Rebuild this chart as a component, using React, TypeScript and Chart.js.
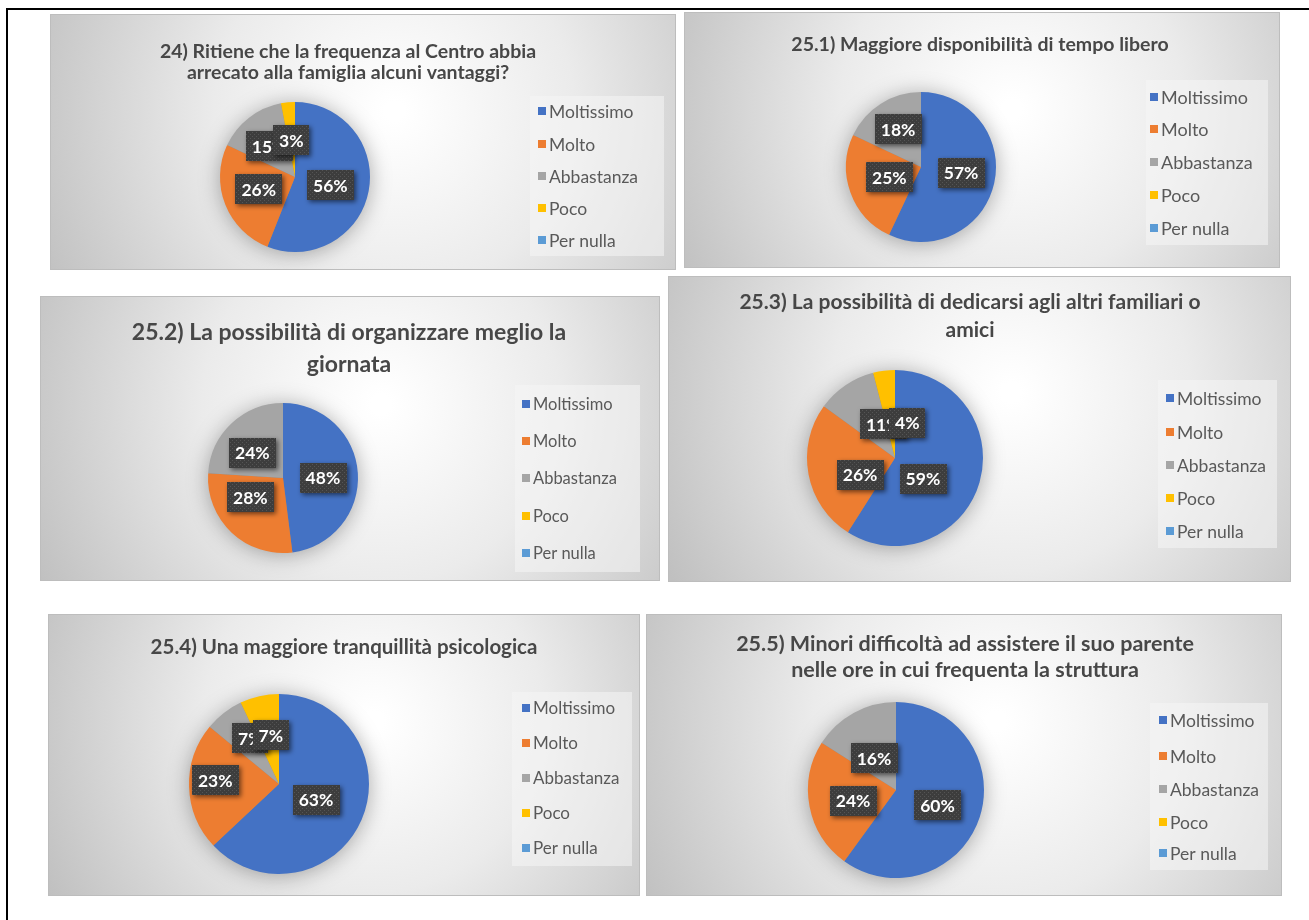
import React, { useEffect, useRef } from "react";
import { Chart, registerables } from "chart.js";

Chart.register(...registerables);

// ---------- data ----------
const categories = ["Moltissimo", "Molto", "Abbastanza", "Poco", "Per nulla"];
const sliceColors = ["#4472C4", "#ED7D31", "#A5A5A5", "#FFC000", "#5B9BD5"];

const title24 = ["24) Ritiene che la frequenza al Centro abbia", "arrecato alla famiglia alcuni vantaggi?"];
const title251 = ["25.1) Maggiore disponibilità di tempo libero"];
const title252 = ["25.2) La possibilità di organizzare meglio la", "giornata"];
const title253 = ["25.3) La possibilità di dedicarsi agli altri familiari o", "amici"];
const title254 = ["25.4) Una maggiore tranquillità psicologica"];
const title255 = ["25.5) Minori difficoltà ad assistere il suo parente", "nelle ore in cui frequenta la struttura"];

const values24 = [56, 26, 15, 3, 0];
const values251 = [57, 25, 18, 0, 0];
const values252 = [48, 28, 24, 0, 0];
const values253 = [59, 26, 11, 4, 0];
const values254 = [63, 23, 7, 7, 0];
const values255 = [60, 24, 16, 0, 0];

// ---------- layout (page coordinates) ----------
type Panel = {
  x: number; y: number; w: number; h: number;
  title: string[]; titleCx: number; titleY: number[]; titleSize: number;
  cx: number; cy: number; r: number;
  values: number[];
  legTextX: number; legY: number[]; legBox: [number, number, number, number]; legSize: number;
  labelF: number;
  nudge: [number, number][];
};

const panels: Panel[] = [
  {
    x: 50, y: 14, w: 626, h: 256,
    title: title24, titleCx: 348, titleY: [52, 73], titleSize: 19.5,
    cx: 295, cy: 177, r: 75, values: values24,
    legTextX: 549, legY: [111, 144, 176, 208, 240], legBox: [530, 96, 664, 256], legSize: 17.5,
    labelF: 0.52,
    nudge: [[-3, 1], [0, -2], [-2, 0], [0, 2], [0, 0]],
  },
  {
    x: 684, y: 12, w: 596, h: 256,
    title: title251, titleCx: 980, titleY: [45], titleSize: 19.5,
    cx: 921, cy: 167, r: 75, values: values251,
    legTextX: 1161, legY: [97, 129, 162, 195, 228], legBox: [1146, 80, 1268, 245], legSize: 18,
    labelF: 0.52,
    nudge: [[2, -3], [5, -3], [-2, -5], [0, 0], [0, 0]],
  },
  {
    x: 40, y: 296, w: 620, h: 285,
    title: title252, titleCx: 349, titleY: [333, 365], titleSize: 23,
    cx: 283, cy: 478, r: 75, values: values252,
    legTextX: 533, legY: [404, 441, 478, 516, 553], legBox: [515, 385, 640, 572], legSize: 16.5,
    labelF: 0.52,
    nudge: [[1, 2], [-6, -9], [-4, 3], [0, 0], [0, 0]],
  },
  {
    x: 668, y: 276, w: 623, h: 306,
    title: title253, titleCx: 970, titleY: [302, 330], titleSize: 21,
    cx: 895, cy: 458, r: 88, values: values253,
    legTextX: 1177, legY: [398, 432, 465, 498, 531], legBox: [1158, 380, 1277, 548], legSize: 17.5,
    labelF: 0.52,
    nudge: [[-16, 8], [10, 8], [14, 4], [18, 10], [0, 0]],
  },
  {
    x: 48, y: 614, w: 592, h: 282,
    title: title254, titleCx: 344, titleY: [647], titleSize: 20.5,
    cx: 279, cy: 784, r: 90, values: values254,
    legTextX: 533, legY: [708, 743, 778, 813, 848], legBox: [512, 692, 632, 866], legSize: 17,
    labelF: 0.52,
    nudge: [[-6, -3], [-17, -5], [0, -9], [2, -3], [0, 0]],
  },
  {
    x: 646, y: 614, w: 636, h: 282,
    title: title255, titleCx: 965, titleY: [644, 670], titleSize: 21.5,
    cx: 896, cy: 790, r: 88, values: values255,
    legTextX: 1170, legY: [720, 756, 789, 822, 853], legBox: [1150, 703, 1268, 870], legSize: 17.5,
    labelF: 0.52,
    nudge: [[-2, 1], [2, 2], [0, 8], [0, 0], [0, 0]],
  },
];

const FONT = "Lato, 'Open Sans', 'Noto Sans', sans-serif";

function makePattern(ctx: CanvasRenderingContext2D) {
  const c = document.createElement("canvas");
  c.width = 4; c.height = 4;
  const g = c.getContext("2d")!;
  g.fillStyle = "#3d3d3d";
  g.fillRect(0, 0, 4, 4);
  g.fillStyle = "#555555";
  g.fillRect(0, 0, 1, 1);
  g.fillRect(2, 2, 1, 1);
  return ctx.createPattern(c, "repeat") || "#404040";
}

const panelPlugin = {
  id: "panelDeco",
  beforeDraw(chart: any, _a: any, opts: any) {
    const p: Panel = opts.panel;
    const ctx: CanvasRenderingContext2D = chart.ctx;
    const W = chart.width, H = chart.height;
    ctx.save();
    const g = ctx.createRadialGradient(W * 0.55, H * 0.38, 10, W * 0.55, H * 0.38, W * 0.62);
    g.addColorStop(0, "#ffffff");
    g.addColorStop(0.45, "#ebebeb");
    g.addColorStop(1, "#c0c0c0");
    ctx.fillStyle = g;
    ctx.fillRect(0, 0, W, H);
    ctx.strokeStyle = "#bdbdbd";
    ctx.lineWidth = 1;
    ctx.strokeRect(0.5, 0.5, W - 1, H - 1);

    // title
    ctx.fillStyle = "#474747";
    ctx.font = `bold ${p.titleSize}px ${FONT}`;
    ctx.textAlign = "center";
    ctx.textBaseline = "middle";
    p.title.forEach((t, i) => ctx.fillText(t, p.titleCx - p.x, p.titleY[i] - p.y));

    // legend
    const [bx0, by0, bx1, by1] = p.legBox;
    ctx.fillStyle = "rgba(245,245,245,0.55)";
    ctx.fillRect(bx0 - p.x, by0 - p.y, bx1 - bx0, by1 - by0);
    const labels: string[] = chart.data.labels;
    const colors: string[] = chart.data.datasets[0].backgroundColor;
    ctx.font = `${p.legSize}px ${FONT}`;
    ctx.textAlign = "left";
    labels.forEach((l, i) => {
      const ly = p.legY[i] - p.y;
      ctx.fillStyle = colors[i];
      ctx.fillRect(p.legTextX - p.x - 11, ly - 4, 8, 8);
      ctx.fillStyle = "#595959";
      ctx.fillText(l, p.legTextX - p.x, ly + 1);
    });
    ctx.restore();
  },
  beforeDatasetsDraw(chart: any) {
    const ctx: CanvasRenderingContext2D = chart.ctx;
    const arc = chart.getDatasetMeta(0).data[0];
    if (!arc) return;
    ctx.save();
    ctx.shadowColor = "rgba(0,0,0,0.35)";
    ctx.shadowBlur = 22;
    ctx.shadowOffsetX = 0;
    ctx.shadowOffsetY = 2;
    ctx.fillStyle = "#888";
    ctx.beginPath();
    ctx.arc(arc.x, arc.y, arc.outerRadius - 1, 0, Math.PI * 2);
    ctx.fill();
    ctx.restore();
  },
  afterDatasetsDraw(chart: any, _a: any, opts: any) {
    const p: Panel = opts.panel;
    const ctx: CanvasRenderingContext2D = chart.ctx;
    const meta = chart.getDatasetMeta(0);
    const data: number[] = chart.data.datasets[0].data;
    const pat = makePattern(ctx);
    ctx.save();
    ctx.font = `bold 17.5px ${FONT}`;
    ctx.textAlign = "center";
    ctx.textBaseline = "middle";
    meta.data.forEach((el: any, i: number) => {
      const v = data[i];
      if (!v) return;
      const mid = (el.startAngle + el.endAngle) / 2;
      const nd = p.nudge[i] || [0, 0];
      const lx = el.x + Math.cos(mid) * el.outerRadius * p.labelF + nd[0];
      const ly = el.y + Math.sin(mid) * el.outerRadius * p.labelF + nd[1];
      const txt = `${v}%`;
      const tw = ctx.measureText(txt).width;
      const bw = tw + 12, bh = 30;
      ctx.save();
      ctx.shadowColor = "rgba(0,0,0,0.55)";
      ctx.shadowBlur = 5;
      ctx.shadowOffsetX = 2;
      ctx.shadowOffsetY = 2;
      ctx.fillStyle = pat as any;
      ctx.fillRect(Math.round(lx - bw / 2), Math.round(ly - bh / 2), Math.round(bw), bh);
      ctx.restore();
      ctx.fillStyle = "#ffffff";
      ctx.fillText(txt, lx, ly + 1);
    });
    ctx.restore();
  },
};

function PieCard({ p }: { p: Panel }) {
  const ref = useRef<HTMLCanvasElement>(null);
  useEffect(() => {
    if (!ref.current) return;
    const lx = p.cx - p.x, ly = p.cy - p.y;
    const chart = new Chart(ref.current, {
      type: "pie",
      data: {
        labels: categories,
        datasets: [
          {
            data: p.values,
            backgroundColor: sliceColors,
            borderWidth: 0,
          },
        ],
      },
      options: {
        responsive: false,
        animation: false,
        devicePixelRatio: 1,
        layout: {
          padding: {
            left: lx - p.r,
            top: ly - p.r,
            right: p.w - (lx + p.r),
            bottom: p.h - (ly + p.r),
          },
        },
        plugins: {
          legend: { display: false },
          title: { display: false },
          tooltip: { enabled: false },
          panelDeco: { panel: p },
        } as any,
      },
      plugins: [panelPlugin as any],
    });
    return () => chart.destroy();
  }, [p]);
  return (
    <canvas
      ref={ref}
      width={p.w}
      height={p.h}
      style={{ position: "absolute", left: p.x, top: p.y, width: p.w, height: p.h }}
    />
  );
}

export default function App() {
  return (
    <div
      style={{
        position: "absolute",
        left: 0,
        top: 0,
        width: 1309,
        height: 920,
        overflow: "hidden",
        background: "#ffffff",
      }}
    >
      <div
        style={{
          position: "absolute",
          left: 6,
          top: 8,
          width: 1303,
          height: 920,
          borderTop: "2px solid #000",
          borderLeft: "2px solid #000",
          boxSizing: "border-box",
        }}
      />
      {panels.map((p, i) => (
        <PieCard key={i} p={p} />
      ))}
    </div>
  );
}
